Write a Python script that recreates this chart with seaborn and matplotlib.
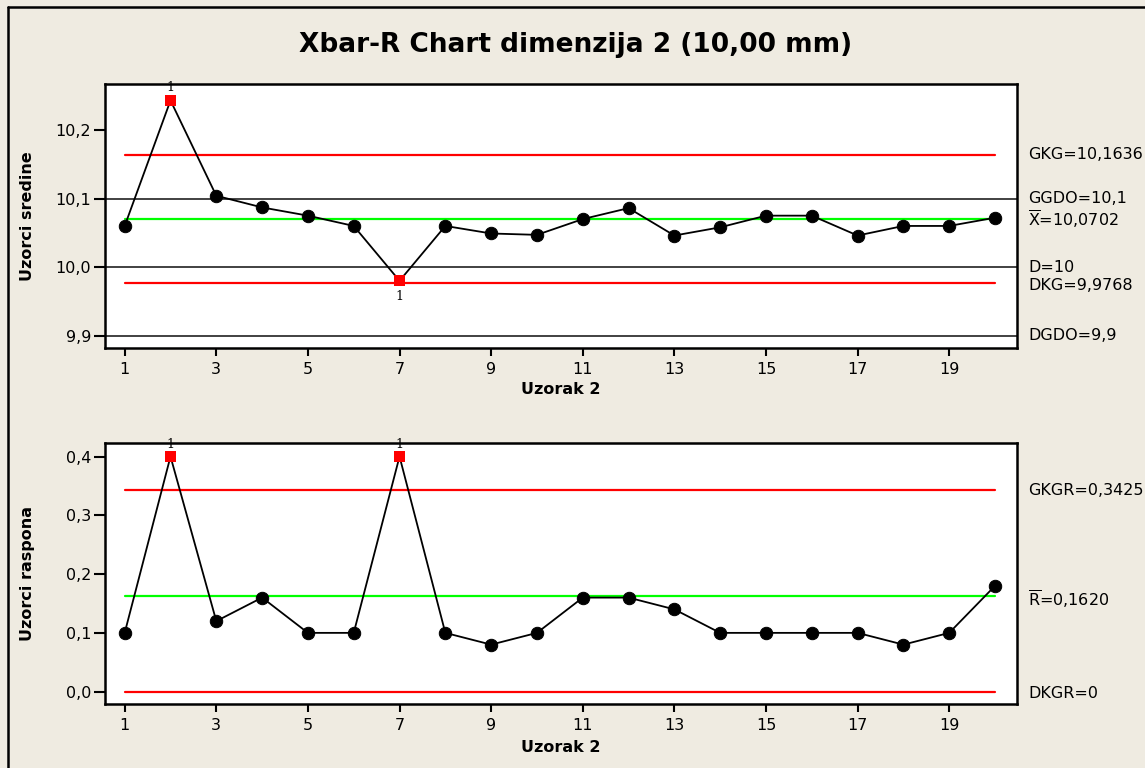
import numpy as np
import pandas as pd
import matplotlib
matplotlib.use('Agg')
import matplotlib.pyplot as plt
from matplotlib.lines import Line2D
from matplotlib.ticker import FuncFormatter
import seaborn as sns

# ---------------- Data ----------------
uzorak = list(range(1, 21))
sredine = [10.060, 10.243, 10.104, 10.087, 10.075, 10.060, 9.980, 10.060, 10.049, 10.047,
           10.070, 10.086, 10.046, 10.058, 10.075, 10.075, 10.046, 10.060, 10.060, 10.072]
rasponi = [0.10, 0.40, 0.12, 0.16, 0.10, 0.10, 0.40, 0.10, 0.08, 0.10,
           0.16, 0.16, 0.14, 0.10, 0.10, 0.10, 0.10, 0.08, 0.10, 0.18]

# control / tolerance limits
GKG, XBAR, DKG = 10.1636, 10.0702, 9.9768
GGDO, D, DGDO = 10.1, 10.0, 9.9
GKGR, RBAR, DKGR = 0.3425, 0.1620, 0.0

out_x = [2, 7]   # out of control in Xbar chart
out_r = [2, 7]   # out of control in R chart

df_x = pd.DataFrame({"uzorak": uzorak, "vrijednost": sredine})
df_r = pd.DataFrame({"uzorak": uzorak, "vrijednost": rasponi})

# ---------------- Style ----------------
BG = '#EFEBE1'
sns.set_theme(style="ticks")
plt.rcParams['font.family'] = ['DejaVu Sans']
plt.rcParams['mathtext.fontset'] = 'dejavusans'
for k in ('text.color', 'axes.labelcolor', 'xtick.color', 'ytick.color'):
    plt.rcParams[k] = 'black'

fig = plt.figure(figsize=(11.45, 7.68), dpi=100, facecolor=BG)
W, H = 1145, 768
L, R = 105, 1017
ax1 = fig.add_axes([L / W, 1 - 348 / H, (R - L) / W, 264 / H])
ax2 = fig.add_axes([L / W, 1 - 704 / H, (R - L) / W, 261 / H])

# figure frame (top and left only visible)
fig.add_artist(Line2D([8 / W, 1], [1 - 7 / H, 1 - 7 / H], color='black', lw=1.8))
fig.add_artist(Line2D([8 / W, 8 / W], [0, 1 - 7 / H], color='black', lw=1.8))

comma1 = FuncFormatter(lambda v, p: f"{v:.1f}".replace('.', ','))


def hline(ax, y, color):
    ax.plot([uzorak[0], uzorak[-1]], [y, y], color=color, lw=1.6, zorder=2)


def draw(ax, df, outs, above_below):
    sns.lineplot(data=df, x="uzorak", y="vrijednost", ax=ax, color='black', lw=1.3, zorder=3)
    ok = df[~df["uzorak"].isin(outs)]
    bad = df[df["uzorak"].isin(outs)]
    sns.scatterplot(data=ok, x="uzorak", y="vrijednost", ax=ax, color='black',
                    marker='o', s=80, edgecolor='black', zorder=4)
    sns.scatterplot(data=bad, x="uzorak", y="vrijednost", ax=ax, color='#FF0000',
                    marker='s', s=60, edgecolor='none', zorder=5)
    for (_, row), pos in zip(bad.iterrows(), above_below):
        dy = 9 if pos == 'up' else -11
        ax.annotate("1", (row["uzorak"], row["vrijednost"]), xytext=(0, dy),
                    textcoords='offset points', ha='center', va='center',
                    fontsize=9, family='DejaVu Serif', color='black')


def style(ax, ylim, ylabel):
    ax.set_facecolor('white')
    ax.set_xlim(0.57, 20.48)
    ax.set_ylim(*ylim)
    ax.set_xticks(range(1, 21, 2))
    ax.yaxis.set_major_formatter(comma1)
    ax.tick_params(axis='y', length=8, width=1.5, pad=2, labelsize=11.5, color='black')
    ax.tick_params(axis='x', length=6, width=1.5, pad=4, labelsize=11.5, color='black')
    for sp in ax.spines.values():
        sp.set_visible(True)
        sp.set_linewidth(1.8)
        sp.set_color('black')
    ax.set_xlabel("Uzorak 2", fontsize=11.5, fontweight='bold')
    ax.set_ylabel(ylabel, fontsize=11.5, fontweight='bold')
    ax.yaxis.set_label_coords(-70 / (R - L), 0.5)


def rlabel(ax, y, text, dy=0):
    ax.annotate(text, (1.012, y), xycoords=('axes fraction', 'data'), xytext=(0, dy),
                textcoords='offset points', ha='left', va='center', fontsize=11.5,
                annotation_clip=False)


# ---------------- Xbar chart ----------------
for y in (GGDO, D, DGDO):
    ax1.axhline(y, color='#333333', lw=1.3, zorder=1)
hline(ax1, GKG, '#FF0000')
hline(ax1, DKG, '#FF0000')
hline(ax1, XBAR, '#00FF00')
draw(ax1, df_x, out_x, ['up', 'down'])
style(ax1, (9.882, 10.267), "Uzorci sredine")
ax1.set_yticks([9.9, 10.0, 10.1, 10.2])
ax1.xaxis.set_label_coords(0.5, -(382 - 348) / 264)
rlabel(ax1, GKG, "GKG=10,1636")
rlabel(ax1, GGDO, "GGDO=10,1")
rlabel(ax1, XBAR, r"$\overline{\mathrm{X}}$=10,0702")
rlabel(ax1, D, "D=10")
rlabel(ax1, DKG, "DKG=9,9768", dy=-2)
rlabel(ax1, DGDO, "DGDO=9,9")

# ---------------- R chart ----------------
hline(ax2, GKGR, '#FF0000')
hline(ax2, DKGR, '#FF0000')
hline(ax2, RBAR, '#00FF00')
draw(ax2, df_r, out_r, ['up', 'up'])
style(ax2, (-0.021, 0.423), "Uzorci raspona")
ax2.set_yticks([0.0, 0.1, 0.2, 0.3, 0.4])
ax2.xaxis.set_label_coords(0.5, -(740 - 704) / 261)
rlabel(ax2, GKGR, "GKGR=0,3425")
rlabel(ax2, RBAR, r"$\overline{\mathrm{R}}$=0,1620", dy=-2)
rlabel(ax2, DKGR, "DKGR=0", dy=-1)

fig.text(576 / W, 1 - 45 / H, "Xbar-R Chart dimenzija 2 (10,00 mm)",
         ha='center', va='center', fontsize=19, fontweight='bold')

fig.savefig("out.png", dpi=100, facecolor=BG)
